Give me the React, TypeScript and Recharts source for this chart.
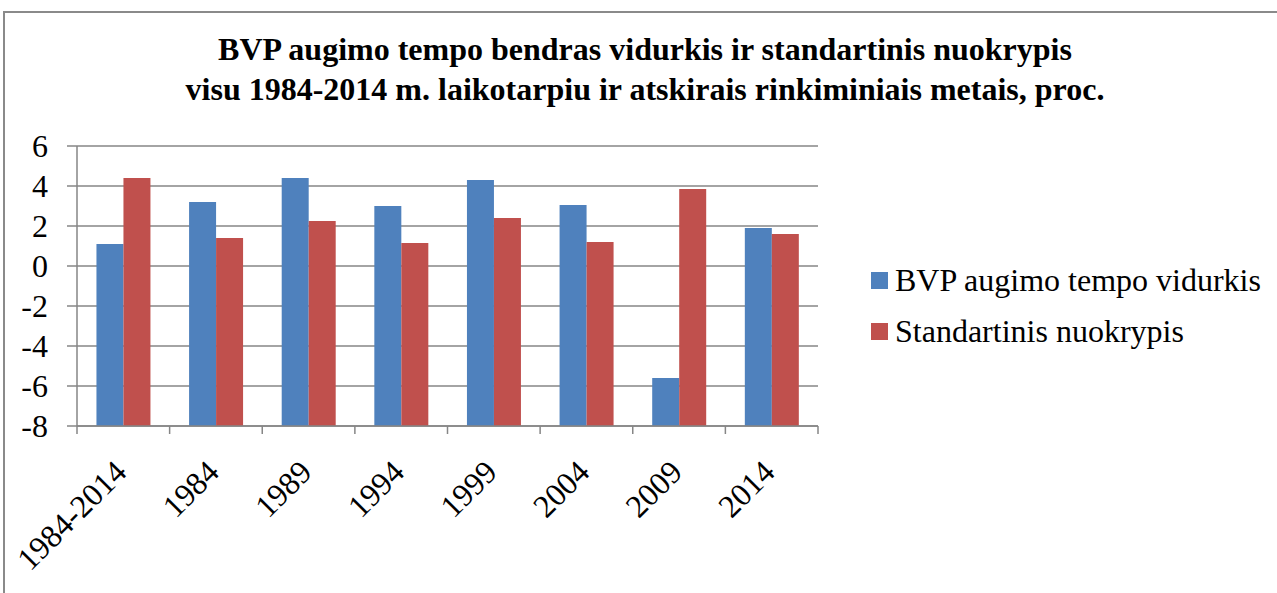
import { BarChart, Bar, XAxis, YAxis, CartesianGrid } from "recharts";

// ---- data ----
const categories = ["1984-2014", "1984", "1989", "1994", "1999", "2004", "2009", "2014"];
const growthMean = [1.1, 3.2, 4.4, 3.0, 4.3, 3.05, -5.6, 1.9];
const stdDeviation = [4.4, 1.4, 2.25, 1.15, 2.4, 1.2, 3.85, 1.6];
const yTicks = [-8, -6, -4, -2, 0, 2, 4, 6];
const seriesNames = ["BVP augimo tempo vidurkis", "Standartinis nuokrypis"];
const titleLines = [
  "BVP augimo tempo bendras vidurkis ir standartinis nuokrypis",
  "visu 1984-2014 m. laikotarpiu ir atskirais rinkiminiais metais, proc.",
];

const BLUE = "#4F81BD";
const RED = "#C0504D";
const GRID = "#868686";
const FONT = "'Liberation Serif', 'Times New Roman', serif";
const FONT_SIZE = 32;

const CHART_W = 830;
const CHART_H = 593;
const MARGIN = { top: 146, right: 12, left: 0, bottom: 0 };
const Y_AXIS_W = 77;
const PLOT_W = CHART_W - MARGIN.left - MARGIN.right - Y_AXIS_W;
const HALF_BAND = PLOT_W / categories.length / 2;

// Excel draws the bars up from the axis floor, not from zero
const axisFloor = yTicks[0];
const data = categories.map((name, i) => ({
  name,
  mean: [axisFloor, growthMean[i]],
  sd: [axisFloor, stdDeviation[i]],
}));

// ticks sit between categories, labels rotated 45deg
function CategoryTick(props: any) {
  const { x, y, payload, index } = props;
  const tx = x + 5;
  const ty = y + 48;
  return (
    <g>
      <line x1={x - HALF_BAND} x2={x - HALF_BAND} y1={y} y2={y + 8} stroke={GRID} strokeWidth={1.5} />
      {index === categories.length - 1 && (
        <line x1={x + HALF_BAND} x2={x + HALF_BAND} y1={y} y2={y + 8} stroke={GRID} strokeWidth={1.5} />
      )}
      <text
        x={tx}
        y={ty}
        textAnchor="end"
        transform={`rotate(-45 ${tx} ${ty})`}
        fontSize={FONT_SIZE}
        fontFamily={FONT}
        fill="#000"
      >
        {payload.value}
      </text>
    </g>
  );
}

export default function App() {
  const colors = [BLUE, RED];
  return (
    <div style={{ position: "absolute", left: 0, top: 0, width: 1277, height: 593, overflow: "hidden", background: "#fff" }}>
      {/* outer chart border */}
      <div style={{ position: "absolute", left: 3, top: 11, width: 1320, height: 640, border: "2px solid #8a8a8a" }} />
      {/* title */}
      <div
        style={{
          position: "absolute",
          left: 0,
          top: 29,
          width: 1290,
          textAlign: "center",
          fontFamily: FONT,
          fontWeight: "bold",
          fontSize: FONT_SIZE,
          lineHeight: "40px",
          color: "#000",
        }}
      >
        {titleLines.map((t) => (
          <div key={t}>{t}</div>
        ))}
      </div>
      <div style={{ position: "absolute", left: 0, top: 0 }}>
        <BarChart
          width={CHART_W}
          height={CHART_H}
          data={data}
          margin={MARGIN}
          barCategoryGap="21%"
          barGap={0}
        >
          <CartesianGrid vertical={false} stroke={GRID} strokeWidth={1.5} />
          <XAxis
            dataKey="name"
            interval={0}
            height={CHART_H - MARGIN.top - 280}
            axisLine={{ stroke: GRID, strokeWidth: 1.5 }}
            tickLine={false}
            tickSize={0}
            tickMargin={0}
            tick={<CategoryTick />}
          />
          <YAxis
            type="number"
            domain={[yTicks[0], yTicks[yTicks.length - 1]]}
            ticks={yTicks}
            interval={0}
            width={Y_AXIS_W}
            axisLine={{ stroke: GRID, strokeWidth: 1.5 }}
            tickLine={{ stroke: GRID, strokeWidth: 1.5 }}
            tickSize={10}
            tickMargin={19}
            tick={{ fontSize: FONT_SIZE, fontFamily: FONT, fill: "#000" }}
          />
          <Bar dataKey="mean" name={seriesNames[0]} fill={BLUE} isAnimationActive={false} />
          <Bar dataKey="sd" name={seriesNames[1]} fill={RED} isAnimationActive={false} />
        </BarChart>
      </div>
      {/* legend */}
      <div style={{ position: "absolute", left: 871, top: 255, fontFamily: FONT, fontSize: FONT_SIZE, color: "#000" }}>
        {seriesNames.map((name, i) => (
          <div key={name} style={{ display: "flex", alignItems: "center", height: 51 }}>
            <span style={{ width: 17, height: 17, background: colors[i], marginRight: 7, display: "inline-block" }} />
            <span>{name}</span>
          </div>
        ))}
      </div>
    </div>
  );
}
